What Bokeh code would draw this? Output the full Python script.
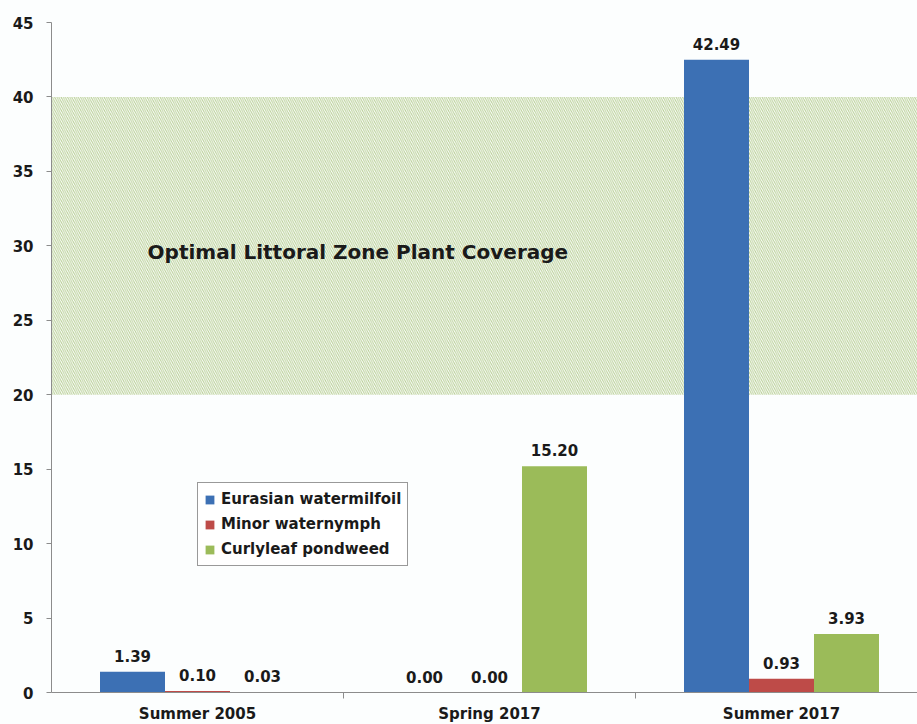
from bokeh.plotting import figure
from bokeh.models import Range1d, FixedTicker, Label, ColumnDataSource, Legend, LegendItem
from bokeh.embed import file_html
from bokeh.resources import INLINE
from bokeh.core.properties import value

# ---- data ----
seasons = ["Summer 2005", "Spring 2017", "Summer 2017"]
series_names = ["Eurasian watermilfoil", "Minor waternymph", "Curlyleaf pondweed"]
eurasian = [1.39, 0.00, 42.49]
minor = [0.10, 0.00, 0.93]
curlyleaf = [0.03, 15.20, 3.93]
optimal_low, optimal_high = 20, 40
y_ticks = [0, 5, 10, 15, 20, 25, 30, 35, 40, 45]

colors = ["#3c70b4", "#be4b48", "#9bbb59"]
FONT = "DejaVu Sans"
TXT = "#1a1a1a"
BG = "#fcfefe"

n = len(seasons)
bar_w = 0.2226
offsets = [-bar_w, 0.0, bar_w]

p = figure(frame_width=866, frame_height=670, output_backend="svg", toolbar_location=None,
           x_range=Range1d(0, 866 / 292), y_range=Range1d(0, 45),
           min_border_left=51, min_border_right=0, min_border_top=22, min_border_bottom=20,
           background_fill_color=BG, border_fill_color=BG)
p.outline_line_color = None
p.grid.visible = False

# hatched optimal zone
p.quad(left=[0], right=[4], bottom=[optimal_low], top=[optimal_high],
       fill_alpha=0, line_color=None, hatch_pattern="\\", hatch_color="#b9cf95",
       hatch_alpha=1.0, hatch_scale=4.3, hatch_weight=1.0)

items = []
for vals, off, col, name in zip([eurasian, minor, curlyleaf], offsets, colors, series_names):
    xs = [i + 0.5 + off for i in range(n)]
    src = ColumnDataSource(dict(x=xs, top=vals, lab=[f"{v:.2f}" for v in vals]))
    r = p.vbar(x="x", top="top", width=bar_w, bottom=0, source=src,
               fill_color=col, line_color=None)
    p.text(x="x", y="top", text="lab", source=src, text_align="center",
           text_baseline="middle", y_offset=-16, text_font=value(FONT),
           text_font_style="bold", text_font_size="15px", text_color=TXT)
    items.append(LegendItem(label=name, renderers=[r]))

legend = Legend(items=items, location=(146, 126), orientation="vertical")
legend.label_text_font = FONT
legend.label_text_font_style = "bold"
legend.label_text_font_size = "15px"
legend.label_text_color = TXT
legend.glyph_width = 11
legend.glyph_height = 11
legend.label_height = 20
legend.spacing = 5
legend.padding = 6
legend.margin = 0
legend.label_standoff = 6
legend.border_line_color = "#333333"
legend.border_line_width = 1
legend.background_fill_color = "white"
legend.background_fill_alpha = 1
p.add_layout(legend, "center")

p.add_layout(Label(x=0.329, y=29.6, text="Optimal Littoral Zone Plant Coverage",
                   text_font=FONT, text_font_style="bold", text_font_size="20px",
                   text_color=TXT, text_baseline="middle"))

# axes
ax = p.xaxis[0]
ax.ticker = FixedTicker(ticks=[i + 0.5 for i in range(n)], minor_ticks=list(range(1, n)))
ax.major_label_overrides = {i + 0.5: s for i, s in enumerate(seasons)}
ax.major_tick_line_color = None
ax.minor_tick_in = 0
ax.minor_tick_out = 6
ax.minor_tick_line_color = "#8c8c8c"
ax.axis_line_color = "#8c8c8c"
ax.major_label_text_font = FONT
ax.major_label_text_font_style = "bold"
ax.major_label_text_font_size = "15px"
ax.major_label_text_color = TXT
ax.major_label_standoff = 6

ay = p.yaxis[0]
ay.ticker = FixedTicker(ticks=y_ticks, minor_ticks=[])
ay.major_tick_in = 0
ay.major_tick_out = 5
ay.major_tick_line_color = "#8c8c8c"
ay.axis_line_color = "#8c8c8c"
ay.minor_tick_line_color = None
ay.major_label_text_font = FONT
ay.major_label_text_font_style = "bold"
ay.major_label_text_font_size = "15px"
ay.major_label_text_color = TXT
ay.major_label_standoff = 13

html = file_html(p, INLINE)
html = html.replace("<body>", f'<body style="background:{BG}">')
open("out.html", "w").write(html)
